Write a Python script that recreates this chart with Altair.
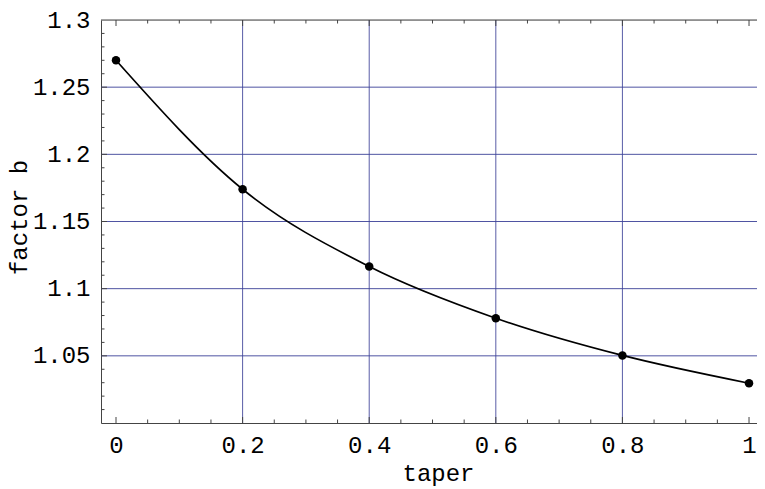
import altair as alt
import pandas as pd

# data
taper = [0.0, 0.2, 0.4, 0.6, 0.8, 1.0]
factor_b = [1.270, 1.174, 1.1165, 1.078, 1.0503, 1.0296]

# axis ticks / grid
x_major = [0.0, 0.2, 0.4, 0.6, 0.8, 1.0]
x_minor = [0.05, 0.1, 0.15, 0.25, 0.3, 0.35, 0.45, 0.5, 0.55, 0.65, 0.7, 0.75, 0.85, 0.9, 0.95]
y_labels = [1.05, 1.1, 1.15, 1.2, 1.25, 1.3]
y_major = [1.05, 1.1, 1.15, 1.2, 1.25]
y_minor = [1.01, 1.02, 1.03, 1.04, 1.06, 1.07, 1.08, 1.09, 1.11, 1.12, 1.13, 1.14,
           1.16, 1.17, 1.18, 1.19, 1.21, 1.22, 1.23, 1.24, 1.26, 1.27, 1.28, 1.29]
x_grid = [0.2, 0.4, 0.6, 0.8]
y_grid = [1.05, 1.1, 1.15, 1.2, 1.25]
frame_top = [1.3]

W, H = 656, 403
FONT = "Liberation Mono"
FS = 24
GRID = "#3c4198"
FRAME = "#444444"
MAJ, MIN = 6, 3.5

xs = alt.Scale(domain=[-0.0237, 1.0126], nice=False, zero=False)
ys = alt.Scale(domain=[1.0, 1.3], nice=False, zero=False)

df = pd.DataFrame({"taper": taper, "b": factor_b})

x_axis = alt.Axis(values=x_major, format="~g", grid=False, ticks=False, tickSize=0,
                  labelPadding=10, labelFlush=False, labelOverlap=False,
                  labelFont=FONT, labelFontSize=FS, labelColor="black",
                  domainColor=FRAME, domainWidth=1,
                  title="taper", titleFont=FONT, titleFontSize=FS, titleFontWeight="normal",
                  titleColor="black", titleX=337, titleY=38, titleBaseline="top")
y_axis = alt.Axis(values=y_labels, format="~g", grid=False, ticks=False, tickSize=0,
                  labelPadding=11, labelFlush=False, labelOverlap=False,
                  labelFont=FONT, labelFontSize=FS, labelColor="black",
                  domainColor=FRAME, domainWidth=1,
                  title="factor b", titleFont=FONT, titleFontSize=FS, titleFontWeight="normal",
                  titleColor="black", titleX=-70, titleY=197, titleBaseline="bottom")


def X(field):
    return alt.X(field, type="quantitative", scale=xs, axis=x_axis)


def Y(field):
    return alt.Y(field, type="quantitative", scale=ys, axis=y_axis)


gx = alt.Chart(pd.DataFrame({"v": x_grid})).mark_rule(color=GRID, strokeWidth=1, opacity=0.85).encode(
    x=X("v"))
gy = alt.Chart(pd.DataFrame({"v": y_grid})).mark_rule(color=GRID, strokeWidth=1, opacity=0.9).encode(
    y=Y("v"))
top = alt.Chart(pd.DataFrame({"v": frame_top})).mark_rule(color=FRAME, strokeWidth=1).encode(
    y=Y("v"))

line = alt.Chart(df).mark_line(color="black", strokeWidth=1.7, interpolate="monotone").encode(
    x=X("taper"), y=Y("b"))
pts = alt.Chart(df).mark_point(filled=True, color="black", size=72, opacity=1).encode(
    x=X("taper"), y=Y("b"))


def yticks(vals, L):
    return alt.Chart(pd.DataFrame({"v": vals})).mark_rule(color=FRAME, strokeWidth=1).encode(
        y=Y("v"), x=alt.value(0), x2=alt.value(L))


def xticks_bottom(vals, L):
    return alt.Chart(pd.DataFrame({"v": vals})).mark_rule(color=FRAME, strokeWidth=1).encode(
        x=X("v"), y=alt.value(H), y2=alt.value(H - L))


def xticks_top(vals, L):
    return alt.Chart(pd.DataFrame({"v": vals})).mark_rule(color=FRAME, strokeWidth=1).encode(
        x=X("v"), y=alt.value(0), y2=alt.value(L))


chart = alt.layer(
    gx, gy, top,
    yticks(y_major, MAJ), yticks(y_minor, MIN),
    xticks_bottom(x_major, MAJ), xticks_bottom(x_minor, MIN),
    xticks_top(x_major, MAJ), xticks_top(x_minor, MIN),
    line, pts,
).properties(
    width=W, height=H,
    padding={"left": 93, "top": 12, "right": 0, "bottom": 66},
    autosize=alt.AutoSizeParams(type="none"),
).configure_view(stroke=None).configure(background="white")

chart.save("out.html", embed_options={"renderer": "svg", "actions": False})
